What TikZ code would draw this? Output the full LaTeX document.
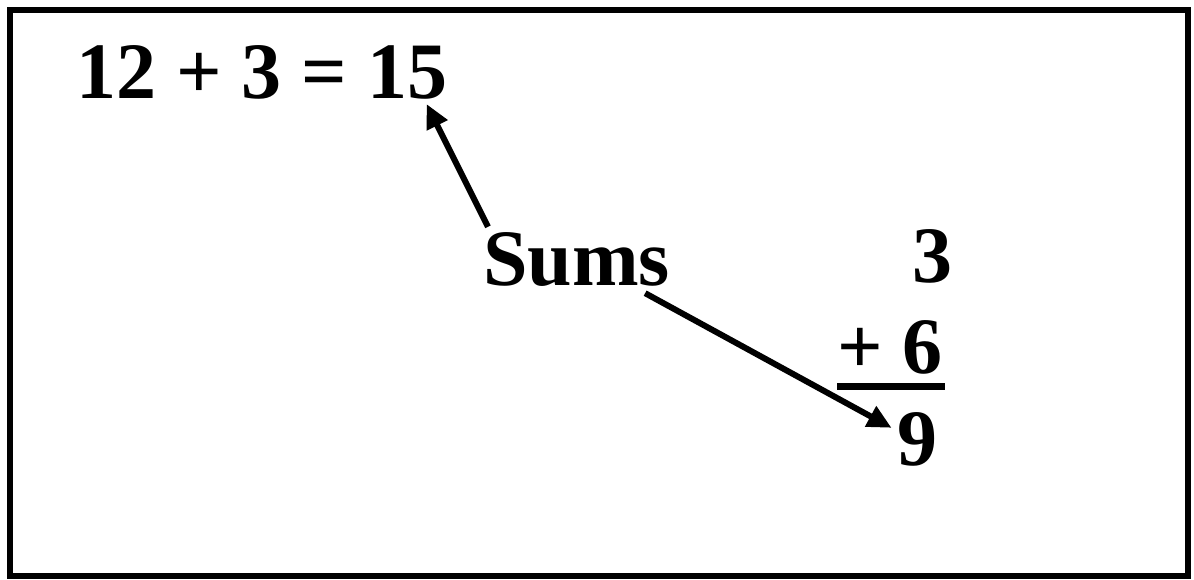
\documentclass[tikz,border=0pt]{standalone}
\usepackage{fontspec}
\setmainfont{Liberation Serif}
\usetikzlibrary{arrows.meta,positioning}

\begin{document}
\begin{tikzpicture}[x=1pt,y=-1pt,
  big/.style={font=\fontsize{80}{80}\selectfont\bfseries,inner sep=0pt,anchor=base west},
  arr/.style={line width=6pt,-{Triangle[length=24pt,width=22pt]}}]
  \useasboundingbox (0,0) rectangle (1194,579);
  \draw[line width=5.5pt] (10,10) rectangle (1188,576);
  % sum in a row
  \node[big] (eq) at (76,98) {12 + 3 = 15};
  % the word
  \node[big] (sums) at (483,285) {Sums};
  % sum in a column
  \node[big,anchor=base east] (top) at (953,282) {3};
  \node[big,anchor=base east] (mid) at (943,373) {+ 6};
  \node[big,anchor=base east] (res) at (938,465) {9};
  \draw[line width=7pt] ([shift={(0,12.5)}]mid.south west) -- ([shift={(2,12.5)}]mid.south east);
  % arrows
  \draw[arr] ([shift={(5,-5)}]sums.north west) -- ([shift={(-21,5)}]eq.south east);
  \draw[arr] ([shift={(-25,7)}]sums.south east) -- ([shift={(-6,16)}]res.north west);
\end{tikzpicture}
\end{document}
